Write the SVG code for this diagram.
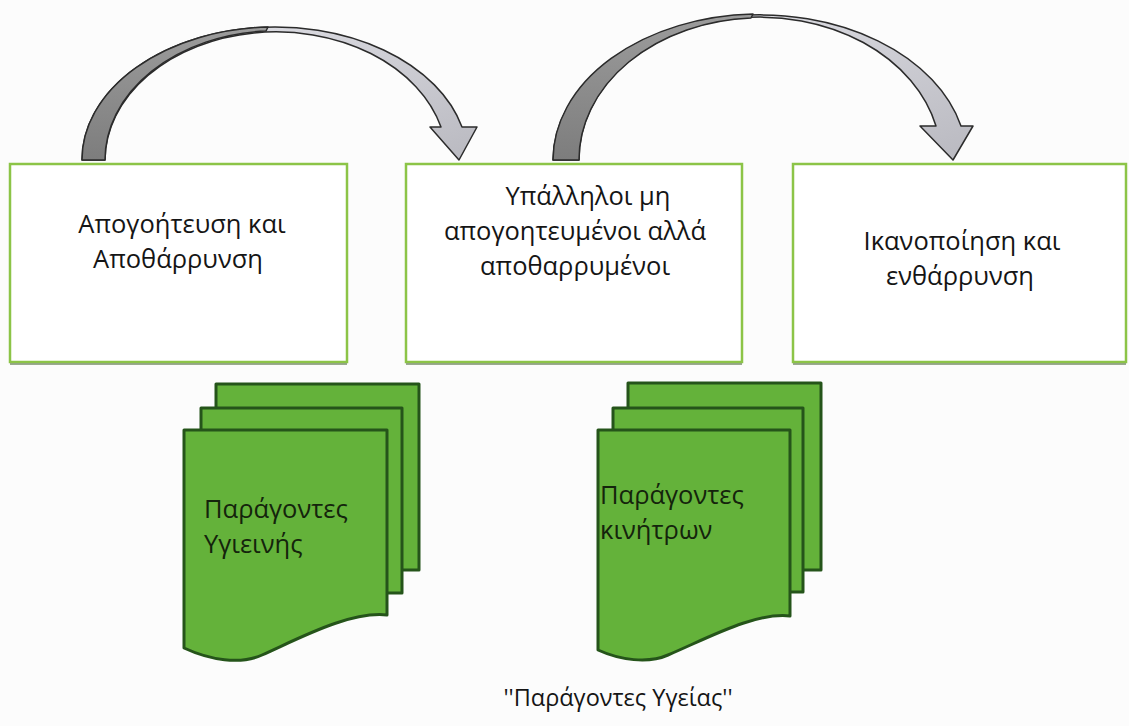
<svg xmlns="http://www.w3.org/2000/svg" width="1129" height="726" viewBox="0 0 1129 726">
<style>
.box{fill:#ffffff;stroke:#8cc447;stroke-width:2.5}
.boxshadow{stroke:#7a8f6a;stroke-width:1.5}
.t{font-family:"Open Sans","Noto Sans","DejaVu Sans",sans-serif;fill:#151515;text-anchor:middle}
.bt{font-size:25.5px}
.dt{font-family:"Open Sans","Noto Sans","DejaVu Sans",sans-serif;fill:#14240c;font-size:25.5px}
.doc{fill:#64b23a;stroke:#25541a;stroke-width:3;stroke-linejoin:round}
.arrowLight{fill:url(#gLight);stroke:#2b2b2b;stroke-width:1.5;stroke-linejoin:round}
.arrowDark{fill:url(#gDark);stroke:#2b2b2b;stroke-width:1.5;stroke-linejoin:round}
.cap{font-family:"Open Sans","Noto Sans","DejaVu Sans",sans-serif;fill:#151515;font-size:23.5px}
</style>
<defs>
<linearGradient id="gLight" x1="0" y1="0" x2="1" y2="1">
<stop offset="0" stop-color="#e4e4ea"/>
<stop offset="1" stop-color="#b9b9c0"/>
</linearGradient>
<linearGradient id="gDark" x1="0" y1="0" x2="0" y2="1">
<stop offset="0" stop-color="#9c9c9c"/>
<stop offset="1" stop-color="#7d7d7d"/>
</linearGradient>
</defs>
<rect width="1129" height="726" fill="#fcfcfc"/>

<g id="connectors">
<g id="arrow-1">
<path class="arrowLight" d="M82,160 A193,133 0 0 1 462,127 L477,127 L459,160 L430,127 L441,127 A171,129 0 0 0 105,160 Z"/>
<path class="arrowDark" d="M82,160 A193,133 0 0 1 268,27 L266,31 A171,129 0 0 0 105,160 Z"/>
</g>
<g id="arrow-2">
<path class="arrowLight" d="M553,160 A207,146 0 0 1 961,126 L973,126 L953,160 L920,126 L936,126 A181,142 0 0 0 579,160 Z"/>
<path class="arrowDark" d="M553,160 A207,146 0 0 1 753,14 L751,18 A181,142 0 0 0 579,160 Z"/>
</g>
</g>

<g id="node-despair">
<rect class="box" x="10" y="164" width="337" height="198"/>
<line class="boxshadow" x1="10" y1="364" x2="347" y2="364"/>
<text class="t bt"><tspan x="182" y="233">Απογοήτευση και</tspan><tspan x="178" y="268">Αποθάρρυνση</tspan></text>
</g>

<g id="node-employees">
<rect class="box" x="406" y="164" width="336" height="198"/>
<line class="boxshadow" x1="406" y1="364" x2="742" y2="364"/>
<text class="t bt"><tspan x="588" y="205">Υπάλληλοι μη</tspan><tspan x="575" y="240">απογοητευμένοι αλλά</tspan><tspan x="575" y="275">αποθαρρυμένοι</tspan></text>
</g>

<g id="node-satisfaction">
<rect class="box" x="793" y="164" width="333" height="198"/>
<line class="boxshadow" x1="793" y1="364" x2="1126" y2="364"/>
<text class="t bt"><tspan x="962" y="250">Ικανοποίηση και</tspan><tspan x="960" y="285">ενθάρρυνση</tspan></text>
</g>

<g id="node-hygiene">
<rect class="doc" x="216" y="384" width="203" height="186"/>
<rect class="doc" x="201" y="408" width="201" height="185"/>
<path class="doc" d="M184,430 H387 V615 C350,611 300,638 262,655 C240,665 210,660 184,648 Z"/>
<text class="dt"><tspan x="204" y="518">Παράγοντες</tspan><tspan x="204" y="553">Υγιεινής</tspan></text>
</g>

<g id="node-motivators">
<rect class="doc" x="628" y="383" width="193" height="187"/>
<rect class="doc" x="613" y="408" width="190" height="184"/>
<path class="doc" d="M598,430 H790 V616 C755,612 708,638 668,655 C648,664 620,660 598,650 Z"/>
<text class="dt"><tspan x="600" y="504">Παράγοντες</tspan><tspan x="600" y="539">κινήτρων</tspan></text>
</g>

<text class="cap" x="618" y="706" text-anchor="middle">''Παράγοντες Υγείας''</text>
</svg>
